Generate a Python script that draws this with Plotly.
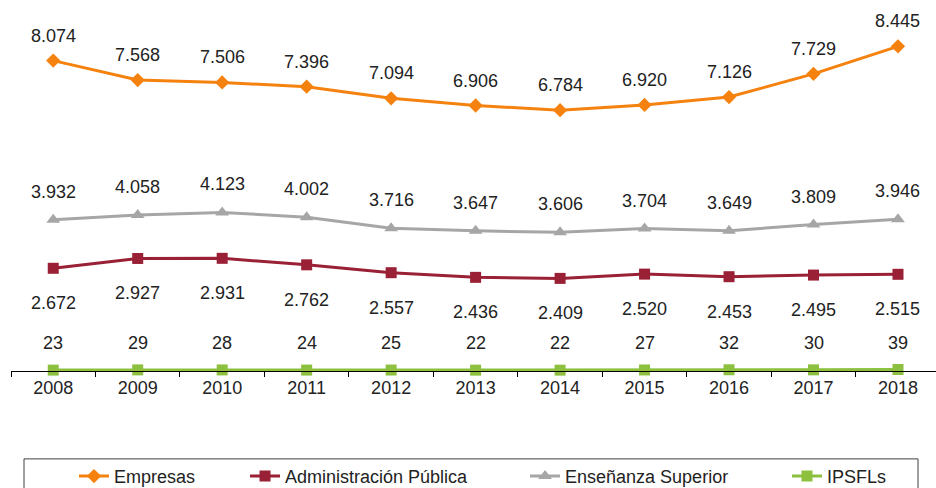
import plotly.graph_objects as go

years = ["2008", "2009", "2010", "2011", "2012", "2013", "2014", "2015", "2016", "2017", "2018"]
empresas = [8074, 7568, 7506, 7396, 7094, 6906, 6784, 6920, 7126, 7729, 8445]
administracion = [2672, 2927, 2931, 2762, 2557, 2436, 2409, 2520, 2453, 2495, 2515]
ensenanza = [3932, 4058, 4123, 4002, 3716, 3647, 3606, 3704, 3649, 3809, 3946]
ipsfl = [23, 29, 28, 24, 25, 22, 22, 27, 32, 30, 39]

# name, values, colour, marker symbol, marker size, label shift (px), legend id, legend x (paper)
series = [
    ("Empresas", empresas, "#F5820F", "diamond", 11, 25, "legend", 0.0681),
    ("Administración Pública", administracion, "#9A2036", "square", 11, -35, "legend2", 0.2530),
    ("Enseñanza Superior", ensenanza, "#A6A6A6", "triangle-up", 12, 28, "legend3", 0.5557),
    ("IPSFLs", ipsfl, "#8CC03E", "square", 11, 27, "legend4", 0.8389),
]

FONT = "Liberation Sans, Arial, sans-serif"
TXT = "#222222"

fig = go.Figure()
annotations = []
legends = {}
for name, vals, color, sym, msize, yshift, lg, lgx in series:
    fig.add_trace(go.Scatter(
        x=years, y=vals, name=name, mode="lines+markers",
        line=dict(color=color, width=3),
        marker=dict(symbol=sym, size=msize, color=color),
        cliponaxis=False, legend=lg,
    ))
    for i, yv in enumerate(vals):
        annotations.append(dict(
            x=i, y=yv, xref="x", yref="y",
            text=f"{yv:,}".replace(",", "."),
            showarrow=False, yshift=yshift,
            font=dict(family=FONT, size=18, color=TXT),
        ))
    legends[lg] = dict(
        orientation="h", x=lgx, xanchor="left", y=-0.251, yanchor="top",
        font=dict(family=FONT, size=18, color=TXT),
        bgcolor="rgba(0,0,0,0)", borderwidth=0,
    )

fig.update_layout(
    width=936, height=488,
    margin=dict(l=11, r=0, t=25, b=117, pad=0, autoexpand=False),
    paper_bgcolor="white", plot_bgcolor="white",
    annotations=annotations,
    showlegend=True,
    xaxis=dict(
        type="category", range=[-0.5, 10.45], tickson="boundaries",
        ticks="outside", ticklen=5, tickcolor="black",
        showline=True, linecolor="black", linewidth=1,
        showgrid=False, zeroline=False, automargin=False,
        tickfont=dict(family=FONT, size=18, color=TXT),
    ),
    yaxis=dict(range=[0, 9000], visible=False, showgrid=False, zeroline=False,
               automargin=False),
    shapes=[dict(type="rect", xref="paper", yref="paper",
                 x0=(24 - 11) / 925, x1=(918 - 11) / 925, y0=-0.254, y1=-0.40,
                 line=dict(color="#404040", width=1), fillcolor="rgba(0,0,0,0)")],
    **legends,
)

fig.write_html("out.html", config={"displayModeBar": False},
               post_script="document.body.style.margin='0';document.body.style.overflow='hidden';")
